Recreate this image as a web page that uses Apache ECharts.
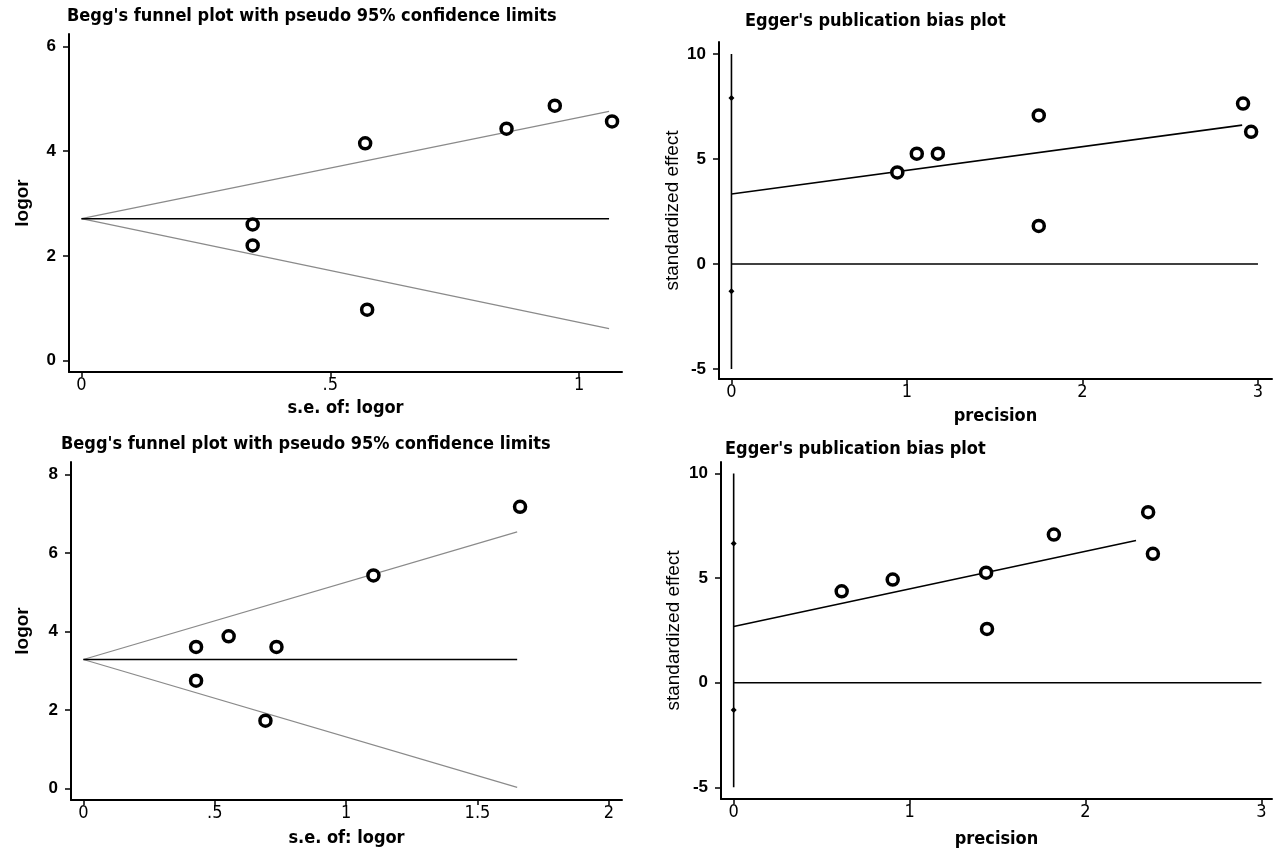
<!DOCTYPE html>
<html>
<head>
<meta charset="utf-8">
<title>Begg's and Egger's plots</title>
<script src="https://cdn.jsdelivr.net/npm/echarts@6.0.0/dist/echarts.min.js"></script>
<style>
	html, body { margin: 0; padding: 0; background: #fff; }
	#chart { width: 1273px; height: 849px; }
</style>
</head>
<body>
<div id="chart"></div>
<script>
// panel 1: Begg's funnel plot (top)
const beggSeA = [0.344, 0.344, 0.570, 0.574, 0.854, 0.951, 1.066];
const beggLogorA = [2.60, 2.20, 4.15, 0.97, 4.43, 4.87, 4.57];
const beggPooledA = 2.71;
const beggSeEndA = 1.06;
const beggLimitsA = [4.76, 0.61]; // upper, lower at seEnd

// panel 2: Egger's plot (top)
const eggerPrecA = [0.945, 1.056, 1.176, 1.751, 1.751, 2.915, 2.961];
const eggerEffA = [4.36, 5.25, 5.25, 7.07, 1.81, 7.64, 6.29];
const eggerFitA = [[0, 3.33], [2.91, 6.61]];
const eggerCiA = [7.9, -1.3];

// panel 3: Begg's funnel plot (bottom)
const beggSeB = [0.429, 0.429, 0.553, 0.735, 0.693, 1.104, 1.662];
const beggLogorB = [3.61, 2.75, 3.88, 3.61, 1.73, 5.43, 7.18];
const beggPooledB = 3.29;
const beggSeEndB = 1.651;
const beggLimitsB = [6.54, 0.03];

// panel 4: Egger's plot (bottom)
const eggerPrecB = [0.614, 0.904, 1.435, 1.44, 1.82, 2.356, 2.383];
const eggerEffB = [4.37, 4.93, 5.26, 2.57, 7.08, 8.15, 6.16];
const eggerFitB = [[0, 2.69], [2.287, 6.80]];
const eggerCiB = [6.65, -1.3];

// tick labels
const beggXTicksA = [0, 0.5, 1];
const beggYTicksA = [0, 2, 4, 6];
const beggXTicksB = [0, 0.5, 1, 1.5, 2];
const beggYTicksB = [0, 2, 4, 6, 8];
const eggerXTicks = [0, 1, 2, 3];
const eggerYTicks = [-5, 0, 5, 10];
const eggerCiSpan = [-5, 10];
const eggerZeroEnd = 3;

const NARROW = "'DejaVu Sans Condensed', 'Liberation Sans Narrow', sans-serif";
const WIDE = "'Liberation Sans', Arial, sans-serif";

function pair(xs, ys) {
	return xs.map((x, i) => [x, ys[i]]);
}

function xFmt(v) {
	return String(v).replace(/^0\./, ".");
}

function xAxis(idx, min, max, ticks, name, gap) {
	return {
		type: "value",
		gridIndex: idx,
		min: min,
		max: max,
		name: name,
		nameLocation: "middle",
		nameGap: gap,
		nameTextStyle: { color: "#000", fontFamily: NARROW, fontWeight: "bold", fontSize: 18 },
		axisLine: { show: true, onZero: false, lineStyle: { color: "#000", width: 2 } },
		axisTick: { show: true, length: 5, lineStyle: { color: "#000", width: 1.5 }, customValues: ticks },
		axisLabel: {
			color: "#000", fontFamily: NARROW, fontSize: 18, margin: 4,
			customValues: ticks, formatter: xFmt
		},
		splitLine: { show: false }
	};
}

function yAxis(idx, min, max, ticks, name, gap, weight) {
	return {
		type: "value",
		gridIndex: idx,
		min: min,
		max: max,
		name: name,
		nameLocation: "middle",
		nameRotate: 90,
		nameGap: gap,
		nameTextStyle: { color: "#000", fontFamily: WIDE, fontWeight: weight, fontSize: 19 },
		axisLine: { show: true, onZero: false, lineStyle: { color: "#000", width: 2 } },
		axisTick: { show: true, length: 6, lineStyle: { color: "#000", width: 1.5 }, customValues: ticks },
		axisLabel: {
			color: "#000", fontFamily: WIDE, fontWeight: "bold", fontSize: 17, margin: 13,
			customValues: ticks
		},
		splitLine: { show: false }
	};
}

function points(idx, data) {
	return {
		type: "scatter",
		xAxisIndex: idx,
		yAxisIndex: idx,
		data: data,
		symbol: "circle",
		symbolSize: 11,
		itemStyle: { color: "#fff", borderColor: "#000", borderWidth: 3.5, opacity: 1 },
		z: 5
	};
}

function segment(idx, data, color, width) {
	return {
		type: "line",
		xAxisIndex: idx,
		yAxisIndex: idx,
		data: data,
		showSymbol: false,
		symbol: "none",
		lineStyle: { color: color, width: width },
		z: 3
	};
}

function beggSeries(idx, se, logor, pooled, seEnd, limits) {
	return [
		segment(idx, [[0, pooled], [seEnd, limits[0]]], "#8a8a8a", 1.2),
		segment(idx, [[0, pooled], [seEnd, limits[1]]], "#8a8a8a", 1.2),
		segment(idx, [[0, pooled], [seEnd, pooled]], "#000", 1.6),
		points(idx, pair(se, logor))
	];
}

function eggerSeries(idx, prec, eff, fit, ci) {
	return [
		segment(idx, [[0, eggerCiSpan[0]], [0, eggerCiSpan[1]]], "#000", 1.6),
		segment(idx, [[0, 0], [eggerZeroEnd, 0]], "#000", 1.6),
		segment(idx, fit, "#000", 1.6),
		{
			type: "scatter",
			xAxisIndex: idx,
			yAxisIndex: idx,
			data: ci.map(v => [0, v]),
			symbol: "diamond",
			symbolSize: 6,
			itemStyle: { color: "#000", opacity: 1 },
			z: 4
		},
		points(idx, pair(prec, eff))
	];
}

const titleStyle = { color: "#000", fontFamily: NARROW, fontWeight: "bold", fontSize: 18 };

const chart = echarts.init(document.getElementById("chart"), null, { renderer: "canvas" });
chart.setOption({
	animation: false,
	backgroundColor: "#fff",
	title: [
		{ text: "Begg's funnel plot with pseudo 95% confidence limits", left: 67, top: 7, padding: 0, textStyle: titleStyle },
		{ text: "Egger's publication bias plot", left: 745, top: 12, padding: 0, textStyle: titleStyle },
		{ text: "Begg's funnel plot with pseudo 95% confidence limits", left: 61, top: 435, padding: 0, textStyle: titleStyle },
		{ text: "Egger's publication bias plot", left: 725, top: 440, padding: 0, textStyle: titleStyle }
	],
	grid: [
		{ left: 69, top: 34, width: 553, height: 338 },
		{ left: 719, top: 42, width: 553, height: 337 },
		{ left: 71, top: 462, width: 551, height: 338 },
		{ left: 721, top: 462, width: 551, height: 338 }
	],
	xAxis: [
		xAxis(0, -0.025, 1.086, beggXTicksA, "s.e. of: logor", 27),
		xAxis(1, -0.071, 3.08, eggerXTicks, "precision", 28),
		xAxis(2, -0.047, 2.05, beggXTicksB, "s.e. of: logor", 29),
		xAxis(3, -0.072, 3.06, eggerXTicks, "precision", 31)
	],
	yAxis: [
		yAxis(0, -0.22, 6.24, beggYTicksA, "logor", 37, "bold"),
		yAxis(1, -5.48, 10.57, eggerYTicks, "standardized effect", 37, "normal"),
		yAxis(2, -0.29, 8.32, beggYTicksB, "logor", 39, "bold"),
		yAxis(3, -5.56, 10.55, eggerYTicks, "standardized effect", 38, "normal")
	],
	series: [].concat(
		beggSeries(0, beggSeA, beggLogorA, beggPooledA, beggSeEndA, beggLimitsA),
		eggerSeries(1, eggerPrecA, eggerEffA, eggerFitA, eggerCiA),
		beggSeries(2, beggSeB, beggLogorB, beggPooledB, beggSeEndB, beggLimitsB),
		eggerSeries(3, eggerPrecB, eggerEffB, eggerFitB, eggerCiB)
	)
});
window.addEventListener("resize", () => chart.resize());
</script>
</body>
</html>
